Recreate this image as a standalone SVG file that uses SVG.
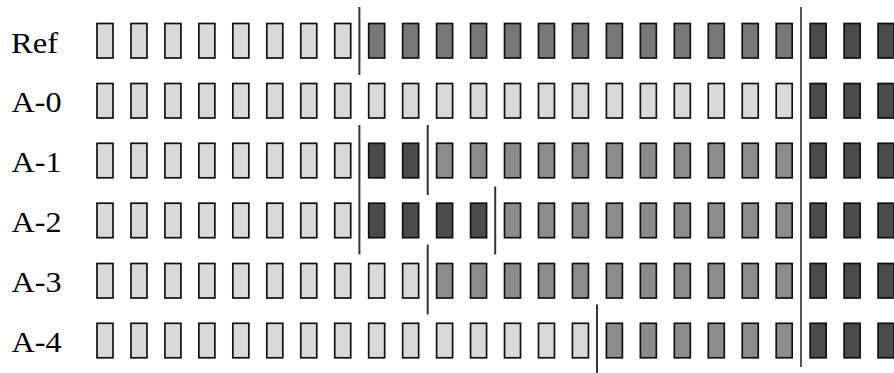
<svg xmlns="http://www.w3.org/2000/svg" width="894" height="373" viewBox="0 0 894 373">
<style>
text{font-family:"Liberation Serif","Times New Roman",serif;font-size:28.5px;fill:#000}
.b{stroke:#111;stroke-width:1.7}
.l{fill:#d9d9d9}.m{fill:#787878}.g{fill:#8c8c8c}.d{fill:#4b4b4b}
line{stroke:#333;stroke-width:2}
line.long{stroke:#555}
</style>
<rect x="0" y="0" width="894" height="373" fill="#fff"/>
<defs>
<rect id="b" class="b" width="16" height="34.5"/>
</defs>
<g id="row-ref">
<text x="11" y="52.7" textLength="47" lengthAdjust="spacingAndGlyphs">Ref</text>
<g transform="translate(0,23.5)">
<use href="#b" x="97" class="l"/><use href="#b" x="130.96" class="l"/><use href="#b" x="164.92" class="l"/><use href="#b" x="198.88" class="l"/><use href="#b" x="232.84" class="l"/><use href="#b" x="266.8" class="l"/><use href="#b" x="300.76" class="l"/><use href="#b" x="334.72" class="l"/>
<use href="#b" x="368.68" class="m"/><use href="#b" x="402.64" class="m"/><use href="#b" x="436.6" class="m"/><use href="#b" x="470.56" class="m"/><use href="#b" x="504.52" class="m"/><use href="#b" x="538.48" class="m"/><use href="#b" x="572.44" class="m"/><use href="#b" x="606.4" class="m"/><use href="#b" x="640.36" class="m"/><use href="#b" x="674.32" class="m"/><use href="#b" x="708.28" class="m"/><use href="#b" x="742.24" class="m"/><use href="#b" x="776.2" class="m"/>
<use href="#b" x="810.16" class="d"/><use href="#b" x="844.12" class="d"/><use href="#b" x="878.08" class="d"/>
</g>
</g>
<g id="row-a0">
<text x="11.5" y="112.3" textLength="50" lengthAdjust="spacingAndGlyphs">A-0</text>
<g transform="translate(0,83.5)">
<use href="#b" x="97" class="l"/><use href="#b" x="130.96" class="l"/><use href="#b" x="164.92" class="l"/><use href="#b" x="198.88" class="l"/><use href="#b" x="232.84" class="l"/><use href="#b" x="266.8" class="l"/><use href="#b" x="300.76" class="l"/><use href="#b" x="334.72" class="l"/>
<use href="#b" x="368.68" class="l"/><use href="#b" x="402.64" class="l"/><use href="#b" x="436.6" class="l"/><use href="#b" x="470.56" class="l"/><use href="#b" x="504.52" class="l"/><use href="#b" x="538.48" class="l"/><use href="#b" x="572.44" class="l"/><use href="#b" x="606.4" class="l"/><use href="#b" x="640.36" class="l"/><use href="#b" x="674.32" class="l"/><use href="#b" x="708.28" class="l"/><use href="#b" x="742.24" class="l"/><use href="#b" x="776.2" class="l"/>
<use href="#b" x="810.16" class="d"/><use href="#b" x="844.12" class="d"/><use href="#b" x="878.08" class="d"/>
</g>
</g>
<g id="row-a1">
<text x="11.5" y="172.1" textLength="50" lengthAdjust="spacingAndGlyphs">A-1</text>
<g transform="translate(0,143.3)">
<use href="#b" x="97" class="l"/><use href="#b" x="130.96" class="l"/><use href="#b" x="164.92" class="l"/><use href="#b" x="198.88" class="l"/><use href="#b" x="232.84" class="l"/><use href="#b" x="266.8" class="l"/><use href="#b" x="300.76" class="l"/><use href="#b" x="334.72" class="l"/>
<use href="#b" x="368.68" class="d"/><use href="#b" x="402.64" class="d"/>
<use href="#b" x="436.6" class="g"/><use href="#b" x="470.56" class="g"/><use href="#b" x="504.52" class="g"/><use href="#b" x="538.48" class="g"/><use href="#b" x="572.44" class="g"/><use href="#b" x="606.4" class="g"/><use href="#b" x="640.36" class="g"/><use href="#b" x="674.32" class="g"/><use href="#b" x="708.28" class="g"/><use href="#b" x="742.24" class="g"/><use href="#b" x="776.2" class="g"/>
<use href="#b" x="810.16" class="d"/><use href="#b" x="844.12" class="d"/><use href="#b" x="878.08" class="d"/>
</g>
</g>
<g id="row-a2">
<text x="11.5" y="231.9" textLength="50" lengthAdjust="spacingAndGlyphs">A-2</text>
<g transform="translate(0,203.2)">
<use href="#b" x="97" class="l"/><use href="#b" x="130.96" class="l"/><use href="#b" x="164.92" class="l"/><use href="#b" x="198.88" class="l"/><use href="#b" x="232.84" class="l"/><use href="#b" x="266.8" class="l"/><use href="#b" x="300.76" class="l"/><use href="#b" x="334.72" class="l"/>
<use href="#b" x="368.68" class="d"/><use href="#b" x="402.64" class="d"/><use href="#b" x="436.6" class="d"/><use href="#b" x="470.56" class="d"/>
<use href="#b" x="504.52" class="g"/><use href="#b" x="538.48" class="g"/><use href="#b" x="572.44" class="g"/><use href="#b" x="606.4" class="g"/><use href="#b" x="640.36" class="g"/><use href="#b" x="674.32" class="g"/><use href="#b" x="708.28" class="g"/><use href="#b" x="742.24" class="g"/><use href="#b" x="776.2" class="g"/>
<use href="#b" x="810.16" class="d"/><use href="#b" x="844.12" class="d"/><use href="#b" x="878.08" class="d"/>
</g>
</g>
<g id="row-a3">
<text x="11.5" y="291.9" textLength="50" lengthAdjust="spacingAndGlyphs">A-3</text>
<g transform="translate(0,263.5)">
<use href="#b" x="97" class="l"/><use href="#b" x="130.96" class="l"/><use href="#b" x="164.92" class="l"/><use href="#b" x="198.88" class="l"/><use href="#b" x="232.84" class="l"/><use href="#b" x="266.8" class="l"/><use href="#b" x="300.76" class="l"/><use href="#b" x="334.72" class="l"/><use href="#b" x="368.68" class="l"/><use href="#b" x="402.64" class="l"/>
<use href="#b" x="436.6" class="g"/><use href="#b" x="470.56" class="g"/><use href="#b" x="504.52" class="g"/><use href="#b" x="538.48" class="g"/><use href="#b" x="572.44" class="g"/><use href="#b" x="606.4" class="g"/><use href="#b" x="640.36" class="g"/><use href="#b" x="674.32" class="g"/><use href="#b" x="708.28" class="g"/><use href="#b" x="742.24" class="g"/><use href="#b" x="776.2" class="g"/>
<use href="#b" x="810.16" class="d"/><use href="#b" x="844.12" class="d"/><use href="#b" x="878.08" class="d"/>
</g>
</g>
<g id="row-a4">
<text x="11.5" y="351.6" textLength="50" lengthAdjust="spacingAndGlyphs">A-4</text>
<g transform="translate(0,323.3)">
<use href="#b" x="97" class="l"/><use href="#b" x="130.96" class="l"/><use href="#b" x="164.92" class="l"/><use href="#b" x="198.88" class="l"/><use href="#b" x="232.84" class="l"/><use href="#b" x="266.8" class="l"/><use href="#b" x="300.76" class="l"/><use href="#b" x="334.72" class="l"/><use href="#b" x="368.68" class="l"/><use href="#b" x="402.64" class="l"/><use href="#b" x="436.6" class="l"/><use href="#b" x="470.56" class="l"/><use href="#b" x="504.52" class="l"/><use href="#b" x="538.48" class="l"/><use href="#b" x="572.44" class="l"/>
<use href="#b" x="606.4" class="g"/><use href="#b" x="640.36" class="g"/><use href="#b" x="674.32" class="g"/><use href="#b" x="708.28" class="g"/><use href="#b" x="742.24" class="g"/><use href="#b" x="776.2" class="g"/>
<use href="#b" x="810.16" class="d"/><use href="#b" x="844.12" class="d"/><use href="#b" x="878.08" class="d"/>
</g>
</g>
<g id="dividers">
<line x1="359.4" y1="7" x2="359.4" y2="75"/>
<line class="long" x1="801" y1="7" x2="801" y2="367"/>
<line x1="359.4" y1="125" x2="359.4" y2="254.5"/>
<line x1="427.7" y1="125" x2="427.7" y2="195"/>
<line x1="495.2" y1="186.5" x2="495.2" y2="254.5"/>
<line x1="427.7" y1="244.5" x2="427.7" y2="314.5"/>
<line x1="597" y1="304.5" x2="597" y2="373"/>
</g>
</svg>
